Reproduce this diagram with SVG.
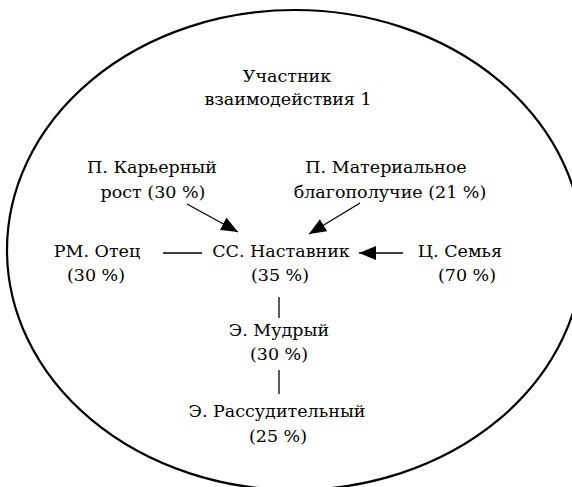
<svg xmlns="http://www.w3.org/2000/svg" width="572" height="487" viewBox="0 0 572 487">
<style>
text{font-size:17.5px;fill:#000;text-anchor:middle}
.ln{stroke:#000;stroke-width:1.3;fill:none}
</style>
<defs>
<marker id="ah" markerUnits="userSpaceOnUse" markerWidth="18" markerHeight="14" refX="17" refY="7" orient="auto">
<path d="M0,0 L17,7 L0,14 Z" fill="#000"/>
</marker>
</defs>
<rect width="572" height="487" fill="#fff"/>
<ellipse cx="295" cy="250" rx="288" ry="240" fill="none" stroke="#000" stroke-width="2.2"/>
<g font-family="DejaVu Serif, Liberation Serif, serif">
<g id="participant"><text x="287" y="82">Участник</text><text x="288" y="105">взаимодействия 1</text></g>
<g id="career"><text x="152" y="173">П. Карьерный</text><text x="153" y="198">рост (30 %)</text></g>
<g id="material"><text x="386" y="173">П. Материальное</text><text x="390" y="198">благополучие (21 %)</text></g>
<g id="father"><text x="97" y="257">РМ. Отец</text><text x="96" y="281">(30 %)</text></g>
<g id="mentor"><text x="281" y="257">СС. Наставник</text><text x="280" y="281">(35 %)</text></g>
<g id="family"><text x="460" y="257">Ц. Семья</text><text x="467" y="281">(70 %)</text></g>
<g id="wise"><text x="279" y="336">Э. Мудрый</text><text x="279" y="360">(30 %)</text></g>
<g id="reasonable"><text x="277" y="417">Э. Рассудительный</text><text x="278" y="442">(25 %)</text></g>
</g>
<g id="connectors">
<line class="ln" x1="187" y1="204" x2="238" y2="232" marker-end="url(#ah)"/>
<line class="ln" x1="360" y1="203" x2="309" y2="234" marker-end="url(#ah)"/>
<line class="ln" x1="403" y1="253" x2="359" y2="253" marker-end="url(#ah)"/>
<line class="ln" x1="163" y1="253" x2="202" y2="253"/>
<line class="ln" x1="279" y1="297" x2="279" y2="318"/>
<line class="ln" x1="279" y1="370" x2="279" y2="394"/>
</g>
</svg>
